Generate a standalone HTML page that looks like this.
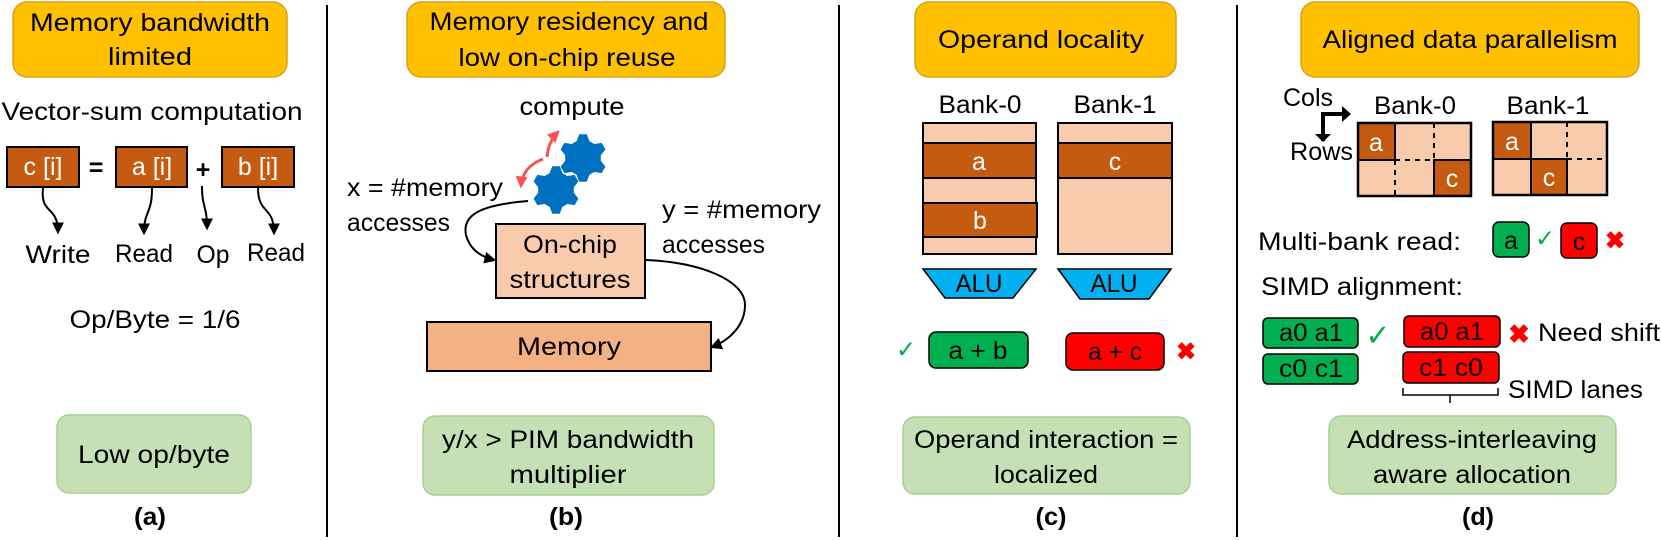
<!DOCTYPE html>
<html><head><meta charset="utf-8"><style>
html,body{margin:0;padding:0;background:#fff}
svg{display:block}
text{font-family:"Liberation Sans",sans-serif;font-size:25px;fill:#000;dominant-baseline:central}
</style></head><body>
<svg width="1661" height="540" viewBox="0 0 1661 540" xmlns="http://www.w3.org/2000/svg">
<defs>
<marker id="ah" viewBox="0 0 10 10" refX="8" refY="5" markerWidth="6" markerHeight="6" orient="auto-start-reverse"><path d="M0,0 L10,5 L0,10 z" fill="#000"/></marker>
<marker id="rh" viewBox="0 0 10 10" refX="8" refY="5" markerWidth="4" markerHeight="4" orient="auto-start-reverse"><path d="M0,0 L10,5 L0,10 z" fill="#FF5050"/></marker>
<polygon id="gear" fill="#0070C0" points="-6.45,-16.8 -3.75,-23.7 3.75,-23.7 6.45,-16.8 11.3,-14 18.65,-15.1 22.4,-8.6 17.8,-2.8 17.8,2.8 22.4,8.6 18.65,15.1 11.3,14 6.45,16.8 3.75,23.7 -3.75,23.7 -6.45,16.8 -11.3,14 -18.65,15.1 -22.4,8.6 -17.8,2.8 -17.8,-2.8 -22.4,-8.6 -18.65,-15.1 -11.3,-14"/>
</defs>

<line x1="327" y1="5" x2="327" y2="537" stroke="#000" stroke-width="2"/>
<line x1="839" y1="5" x2="839" y2="537" stroke="#000" stroke-width="2"/>
<line x1="1237" y1="5" x2="1237" y2="537" stroke="#000" stroke-width="2"/>

<!-- ===== Panel a ===== -->
<rect x="13" y="2" width="274" height="75" rx="14" fill="#FFC000" stroke="#D6A21E" stroke-width="1.5"/>
<text x="150" y="23" text-anchor="middle" textLength="240" lengthAdjust="spacingAndGlyphs">Memory bandwidth</text>
<text x="150" y="57" text-anchor="middle" textLength="84" lengthAdjust="spacingAndGlyphs">limited</text>
<text x="152" y="112" text-anchor="middle" textLength="301" lengthAdjust="spacingAndGlyphs">Vector-sum computation</text>
<rect x="7" y="147" width="72" height="40" fill="#C55A11" stroke="#000" stroke-width="2"/>
<rect x="116" y="147" width="71" height="40" fill="#C55A11" stroke="#000" stroke-width="2"/>
<rect x="222" y="147" width="72" height="40" fill="#C55A11" stroke="#000" stroke-width="2"/>
<text x="43" y="167" text-anchor="middle" style="fill:#fff">c [i]</text>
<text x="152" y="167" text-anchor="middle" style="fill:#fff">a [i]</text>
<text x="258" y="167" text-anchor="middle" style="fill:#fff">b [i]</text>
<text x="96" y="168" text-anchor="middle" style="font-weight:bold">=</text>
<text x="203" y="170" text-anchor="middle" style="font-weight:bold">+</text>
<path d="M43,188 C40,215 58,205 58,232" fill="none" stroke="#000" stroke-width="2" marker-end="url(#ah)"/>
<path d="M152,188 C152,215 144,210 144,233" fill="none" stroke="#000" stroke-width="2" marker-end="url(#ah)"/>
<path d="M202,186 C202,208 207,205 207,228" fill="none" stroke="#000" stroke-width="2" marker-end="url(#ah)"/>
<path d="M258,188 C258,215 274,205 274,233" fill="none" stroke="#000" stroke-width="2" marker-end="url(#ah)"/>
<text x="58" y="255" text-anchor="middle" textLength="65" lengthAdjust="spacingAndGlyphs">Write</text>
<text x="144" y="254" text-anchor="middle" textLength="58" lengthAdjust="spacingAndGlyphs">Read</text>
<text x="213" y="255" text-anchor="middle" textLength="33" lengthAdjust="spacingAndGlyphs">Op</text>
<text x="276" y="253" text-anchor="middle" textLength="58" lengthAdjust="spacingAndGlyphs">Read</text>
<text x="155" y="320" text-anchor="middle" textLength="171" lengthAdjust="spacingAndGlyphs">Op/Byte = 1/6</text>
<rect x="57" y="415" width="194" height="78" rx="12" fill="#C5E0B4" stroke="#A9D18E" stroke-width="1.5"/>
<text x="154" y="455" text-anchor="middle" textLength="152" lengthAdjust="spacingAndGlyphs">Low op/byte</text>
<text x="150" y="517" text-anchor="middle" style="font-weight:bold" textLength="32" lengthAdjust="spacingAndGlyphs">(a)</text>

<!-- ===== Panel b ===== -->
<rect x="407" y="2" width="318" height="75" rx="14" fill="#FFC000" stroke="#D6A21E" stroke-width="1.5"/>
<text x="569" y="22" text-anchor="middle" textLength="279" lengthAdjust="spacingAndGlyphs">Memory residency and</text>
<text x="567" y="58" text-anchor="middle" textLength="217" lengthAdjust="spacingAndGlyphs">low on-chip reuse</text>
<text x="572" y="107" text-anchor="middle" textLength="105" lengthAdjust="spacingAndGlyphs">compute</text>
<use href="#gear" x="583" y="158"/>
<use href="#gear" x="556" y="190"/>
<path d="M543,159 C530,164 522,172 521,186" fill="none" stroke="#FF5050" stroke-width="3" marker-end="url(#rh)"/>
<path d="M547,157 C548,146 552,138 558,132" fill="none" stroke="#FF5050" stroke-width="3" marker-end="url(#rh)"/>
<text x="347" y="188" textLength="156" lengthAdjust="spacingAndGlyphs">x = #memory</text>
<text x="347" y="223" textLength="103" lengthAdjust="spacingAndGlyphs">accesses</text>
<path d="M528,201 C480,205 462,215 466,235 C470,250 482,257 494,260" fill="none" stroke="#000" stroke-width="2" marker-end="url(#ah)"/>
<rect x="496" y="224" width="149" height="74" fill="#F8CBAD" stroke="#000" stroke-width="2"/>
<text x="570" y="245" text-anchor="middle" textLength="94" lengthAdjust="spacingAndGlyphs">On-chip</text>
<text x="570" y="280" text-anchor="middle" textLength="121" lengthAdjust="spacingAndGlyphs">structures</text>
<text x="662" y="210" textLength="159" lengthAdjust="spacingAndGlyphs">y = #memory</text>
<text x="662" y="245" textLength="103" lengthAdjust="spacingAndGlyphs">accesses</text>
<path d="M645,260 C700,262 745,280 745,305 C745,325 730,340 712,347" fill="none" stroke="#000" stroke-width="2" marker-end="url(#ah)"/>
<rect x="427" y="322" width="284" height="49" fill="#F4B183" stroke="#000" stroke-width="2"/>
<text x="569" y="347" text-anchor="middle" textLength="104" lengthAdjust="spacingAndGlyphs">Memory</text>
<rect x="423" y="416" width="291" height="79" rx="12" fill="#C5E0B4" stroke="#A9D18E" stroke-width="1.5"/>
<text x="568" y="440" text-anchor="middle" textLength="252" lengthAdjust="spacingAndGlyphs">y/x &gt; PIM bandwidth</text>
<text x="568" y="475" text-anchor="middle" textLength="117" lengthAdjust="spacingAndGlyphs">multiplier</text>
<text x="566" y="517" text-anchor="middle" style="font-weight:bold" textLength="34" lengthAdjust="spacingAndGlyphs">(b)</text>

<!-- ===== Panel c ===== -->
<rect x="915" y="2" width="261" height="75" rx="14" fill="#FFC000" stroke="#D6A21E" stroke-width="1.5"/>
<text x="1041" y="40" text-anchor="middle" textLength="206" lengthAdjust="spacingAndGlyphs">Operand locality</text>
<text x="980" y="105" text-anchor="middle" textLength="83" lengthAdjust="spacingAndGlyphs">Bank-0</text>
<text x="1115" y="105" text-anchor="middle" textLength="83" lengthAdjust="spacingAndGlyphs">Bank-1</text>
<rect x="923" y="123" width="113" height="131" fill="#F8CBAD" stroke="#000" stroke-width="2"/>
<rect x="923" y="143" width="113" height="35" fill="#C55A11" stroke="#000" stroke-width="2"/>
<rect x="923" y="203" width="114" height="34" fill="#C55A11" stroke="#000" stroke-width="2"/>
<text x="979" y="162" text-anchor="middle" style="fill:#fff">a</text>
<text x="980" y="221" text-anchor="middle" style="fill:#fff">b</text>
<rect x="1058" y="123" width="114" height="131" fill="#F8CBAD" stroke="#000" stroke-width="2"/>
<rect x="1058" y="143" width="114" height="35" fill="#C55A11" stroke="#000" stroke-width="2"/>
<text x="1115" y="162" text-anchor="middle" style="fill:#fff">c</text>
<polygon points="923,269 1036,269 1013,298 945,298" fill="#00B0F0" stroke="#000" stroke-width="1.5"/>
<polygon points="1058,269 1171,269 1149,299 1080,299" fill="#00B0F0" stroke="#000" stroke-width="1.5"/>
<text x="979" y="284" text-anchor="middle" textLength="47" lengthAdjust="spacingAndGlyphs">ALU</text>
<text x="1114" y="284" text-anchor="middle" textLength="47" lengthAdjust="spacingAndGlyphs">ALU</text>
<text x="906" y="350" text-anchor="middle" style="fill:#00B050;font-size:24px">✓</text>
<rect x="929" y="332" width="99" height="36" rx="7" fill="#00B050" stroke="#000" stroke-width="1.5"/>
<text x="978" y="351" text-anchor="middle" textLength="59" lengthAdjust="spacingAndGlyphs">a + b</text>
<rect x="1066" y="333" width="98" height="37" rx="7" fill="#FF0000" stroke="#000" stroke-width="1.5"/>
<text x="1115" y="352" text-anchor="middle" textLength="54" lengthAdjust="spacingAndGlyphs">a + c</text>
<text x="1186" y="352" text-anchor="middle" style="fill:#FF0000;font-size:24px;font-weight:bold">✖</text>
<rect x="903" y="417" width="287" height="77" rx="12" fill="#C5E0B4" stroke="#A9D18E" stroke-width="1.5"/>
<text x="1046" y="440" text-anchor="middle" textLength="264" lengthAdjust="spacingAndGlyphs">Operand interaction =</text>
<text x="1046" y="475" text-anchor="middle" textLength="104" lengthAdjust="spacingAndGlyphs">localized</text>
<text x="1051" y="517" text-anchor="middle" style="font-weight:bold" textLength="31" lengthAdjust="spacingAndGlyphs">(c)</text>

<!-- ===== Panel d ===== -->
<rect x="1301" y="2" width="338" height="75" rx="14" fill="#FFC000" stroke="#D6A21E" stroke-width="1.5"/>
<text x="1470" y="40" text-anchor="middle" textLength="295" lengthAdjust="spacingAndGlyphs">Aligned data parallelism</text>
<text x="1283" y="98" textLength="50" lengthAdjust="spacingAndGlyphs">Cols</text>
<text x="1290" y="152" textLength="63" lengthAdjust="spacingAndGlyphs">Rows</text>
<path d="M1323,141 L1323,114 L1344,114" fill="none" stroke="#000" stroke-width="4"/>
<polygon points="1342,106 1351,114 1342,122" fill="#000"/>
<polygon points="1315,134 1331,134 1323,142" fill="#000"/>
<text x="1415" y="106" text-anchor="middle" textLength="82" lengthAdjust="spacingAndGlyphs">Bank-0</text>
<text x="1548" y="106" text-anchor="middle" textLength="83" lengthAdjust="spacingAndGlyphs">Bank-1</text>
<rect x="1358" y="123" width="113" height="73" fill="#F8CBAD"/>
<rect x="1358" y="123" width="37" height="37" fill="#C55A11" stroke="#000" stroke-width="2"/>
<rect x="1434" y="160" width="37" height="36" fill="#C55A11" stroke="#000" stroke-width="2"/>
<line x1="1395" y1="160" x2="1395" y2="196" stroke="#000" stroke-width="2" stroke-dasharray="5,5"/>
<line x1="1434" y1="123" x2="1434" y2="160" stroke="#000" stroke-width="2" stroke-dasharray="5,5"/>
<line x1="1395" y1="160" x2="1434" y2="160" stroke="#000" stroke-width="2" stroke-dasharray="5,5"/>
<rect x="1358" y="123" width="113" height="73" fill="none" stroke="#000" stroke-width="2.5"/>
<text x="1376" y="143" text-anchor="middle" style="fill:#fff">a</text>
<text x="1452" y="179" text-anchor="middle" style="fill:#fff">c</text>
<rect x="1493" y="122" width="114" height="73" fill="#F8CBAD"/>
<rect x="1493" y="122" width="38" height="37" fill="#C55A11" stroke="#000" stroke-width="2"/>
<rect x="1531" y="159" width="36" height="36" fill="#C55A11" stroke="#000" stroke-width="2"/>
<line x1="1567" y1="122" x2="1567" y2="159" stroke="#000" stroke-width="2" stroke-dasharray="5,5"/>
<line x1="1567" y1="159" x2="1607" y2="159" stroke="#000" stroke-width="2" stroke-dasharray="5,5"/>
<rect x="1493" y="122" width="114" height="73" fill="none" stroke="#000" stroke-width="2.5"/>
<text x="1512" y="142" text-anchor="middle" style="fill:#fff">a</text>
<text x="1549" y="178" text-anchor="middle" style="fill:#fff">c</text>
<text x="1258" y="242" textLength="203" lengthAdjust="spacingAndGlyphs">Multi-bank read:</text>
<rect x="1493" y="222" width="36" height="35" rx="6" fill="#00B050" stroke="#000" stroke-width="1.5"/>
<text x="1511" y="241" text-anchor="middle">a</text>
<text x="1545" y="239" text-anchor="middle" style="fill:#00B050;font-size:24px">✓</text>
<rect x="1561" y="223" width="36" height="35" rx="6" fill="#FF0000" stroke="#000" stroke-width="1.5"/>
<text x="1579" y="242" text-anchor="middle">c</text>
<text x="1615" y="241" text-anchor="middle" style="fill:#FF0000;font-size:24px;font-weight:bold">✖</text>
<text x="1261" y="287" textLength="202" lengthAdjust="spacingAndGlyphs">SIMD alignment:</text>
<rect x="1263" y="318" width="95" height="30" rx="5" fill="#00B050" stroke="#000" stroke-width="1.5"/>
<rect x="1263" y="354" width="95" height="30" rx="5" fill="#00B050" stroke="#000" stroke-width="1.5"/>
<text x="1311" y="333" text-anchor="middle" textLength="64" lengthAdjust="spacingAndGlyphs">a0 a1</text>
<text x="1311" y="369" text-anchor="middle" textLength="64" lengthAdjust="spacingAndGlyphs">c0 c1</text>
<text x="1378" y="336" text-anchor="middle" style="fill:#00B050;font-size:30px">✓</text>
<rect x="1404" y="316" width="96" height="31" rx="5" fill="#FF0000" stroke="#000" stroke-width="1.5"/>
<rect x="1403" y="352" width="96" height="31" rx="5" fill="#FF0000" stroke="#000" stroke-width="1.5"/>
<text x="1452" y="332" text-anchor="middle" textLength="64" lengthAdjust="spacingAndGlyphs">a0 a1</text>
<text x="1451" y="368" text-anchor="middle" textLength="64" lengthAdjust="spacingAndGlyphs">c1 c0</text>
<text x="1519" y="334" text-anchor="middle" style="fill:#FF0000;font-size:26px;font-weight:bold">✖</text>
<text x="1538" y="333" textLength="122" lengthAdjust="spacingAndGlyphs">Need shift</text>
<path d="M1403,388 L1403,395 L1498,395 L1498,388 M1450,395 L1450,403" fill="none" stroke="#000" stroke-width="1.5"/>
<text x="1508" y="390" textLength="135" lengthAdjust="spacingAndGlyphs">SIMD lanes</text>
<rect x="1329" y="416" width="287" height="78" rx="12" fill="#C5E0B4" stroke="#A9D18E" stroke-width="1.5"/>
<text x="1472" y="440" text-anchor="middle" textLength="250" lengthAdjust="spacingAndGlyphs">Address-interleaving</text>
<text x="1472" y="475" text-anchor="middle" textLength="198" lengthAdjust="spacingAndGlyphs">aware allocation</text>
<text x="1478" y="517" text-anchor="middle" style="font-weight:bold" textLength="32" lengthAdjust="spacingAndGlyphs">(d)</text>
</svg>
</body></html>
